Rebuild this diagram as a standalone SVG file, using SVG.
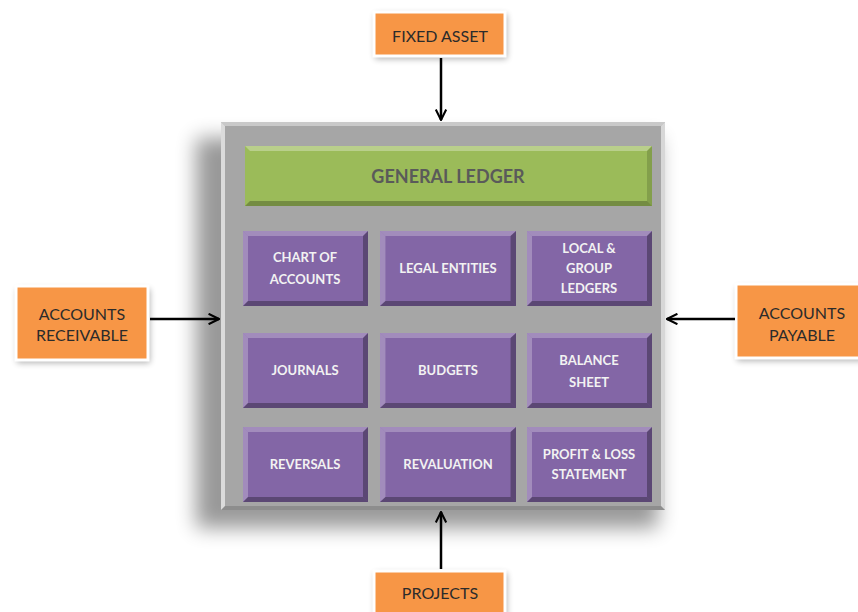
<svg xmlns="http://www.w3.org/2000/svg" width="858" height="612" viewBox="0 0 858 612">
<defs>
<style>
.t{font-family:Lato,"Liberation Sans",sans-serif;font-weight:bold;text-anchor:middle;dominant-baseline:central}
.ob{fill:#F79646;stroke:#fff;stroke-width:3}
.ot{fill:#2b2b2b;font-size:16px;font-weight:normal}
.pt{fill:#F2F2F2;font-size:13px}
.hi{fill:#fff;opacity:0.25}
.lo{fill:#000;opacity:0.3}
.pf{fill:#8366A6}
.conn line{stroke:#000;stroke-width:2.5;marker-end:url(#ah)}
</style>
<filter id="sh" x="-20%" y="-20%" width="140%" height="140%"><feGaussianBlur stdDeviation="3"/></filter>
<filter id="psh" x="-20%" y="-20%" width="140%" height="140%"><feGaussianBlur stdDeviation="10"/></filter>
<marker id="ah" viewBox="0 0 12 12" refX="11" refY="6" markerWidth="5" markerHeight="5" orient="auto" markerUnits="strokeWidth"><path d="M1,1 L11,6 L1,11" fill="none" stroke="#000" stroke-width="2"/></marker>
<g id="bev">
<rect x="0" y="0" width="125" height="75" class="pf"/>
<polygon points="0,0 125,0 120,5 5,5" class="hi"/>
<polygon points="0,0 5,5 5,70 0,75" class="hi" opacity="0.15"/>
<polygon points="0,75 5,70 120,70 125,75" class="lo"/>
<polygon points="125,0 125,75 120,70 120,5" class="lo" opacity="0.2"/>
</g>
</defs>
<rect width="858" height="612" fill="#fff"/>

<g id="panel">
<rect x="196" y="138" width="462" height="390" fill="#000" opacity="0.4" filter="url(#psh)"/>
<rect x="221" y="122" width="444" height="388" fill="#A6A6A6"/>
<polygon points="221,122 665,122 661,126 225,126" fill="#fff" opacity="0.4"/>
<polygon points="221,122 225,126 225,506 221,510" fill="#fff" opacity="0.6"/>
<polygon points="665,122 665,510 661,506 661,126" fill="#fff" opacity="0.55"/>
<polygon points="221,510 225,506 661,506 665,510" fill="#000" opacity="0.15"/>
</g>

<g id="general-ledger">
<rect x="245" y="146" width="407" height="60" fill="#9BBB59"/>
<polygon points="245,146 652,146 647,151 250,151" fill="#fff" opacity="0.3"/>
<polygon points="245,206 250,201 647,201 652,206" fill="#000" opacity="0.25"/>
<polygon points="652,146 652,206 647,201 647,151" fill="#000" opacity="0.15"/>
<text x="448" y="176" class="t" fill="#5a5a5a" font-size="18">GENERAL LEDGER</text>
</g>

<g id="chart-of-accounts"><use href="#bev" x="243" y="231"/><text class="t pt" x="305" y="257">CHART OF</text><text class="t pt" x="305" y="279">ACCOUNTS</text></g>
<g id="legal-entities"><use href="#bev" transform="translate(380,231) scale(1.088,1)"/><text class="t pt" x="448" y="268">LEGAL ENTITIES</text></g>
<g id="local-group-ledgers"><use href="#bev" x="527" y="231"/><text class="t pt" x="589" y="248" font-size="12">LOCAL &amp;</text><text class="t pt" x="589" y="268" font-size="12">GROUP</text><text class="t pt" x="589" y="288" font-size="12">LEDGERS</text></g>

<g id="journals"><use href="#bev" x="243" y="333"/><text class="t pt" x="305" y="370">JOURNALS</text></g>
<g id="budgets"><use href="#bev" transform="translate(380,333) scale(1.088,1)"/><text class="t pt" x="448" y="370">BUDGETS</text></g>
<g id="balance-sheet"><use href="#bev" x="527" y="333"/><text class="t pt" x="589" y="360">BALANCE</text><text class="t pt" x="589" y="382">SHEET</text></g>

<g id="reversals"><use href="#bev" x="243" y="427"/><text class="t pt" x="305" y="464">REVERSALS</text></g>
<g id="revaluation"><use href="#bev" transform="translate(380,427) scale(1.088,1)"/><text class="t pt" x="448" y="464">REVALUATION</text></g>
<g id="profit-loss-statement"><use href="#bev" x="527" y="427"/><text class="t pt" x="589" y="454" font-size="12">PROFIT &amp; LOSS</text><text class="t pt" x="589" y="474" font-size="12">STATEMENT</text></g>

<g id="fixed-asset">
<rect x="375" y="14" width="132" height="45" fill="#000" opacity="0.3" filter="url(#sh)"/>
<rect x="374" y="12" width="131" height="44" class="ob"/>
<text class="t ot" x="440" y="35">FIXED ASSET</text>
</g>
<g id="accounts-receivable">
<rect x="17" y="289" width="133" height="74" fill="#000" opacity="0.3" filter="url(#sh)"/>
<rect x="16" y="286" width="132" height="74" class="ob"/>
<text class="t ot" x="82" y="313" font-size="14">ACCOUNTS</text>
<text class="t ot" x="82" y="334" font-size="14">RECEIVABLE</text>
</g>
<g id="accounts-payable">
<rect x="737" y="287" width="130" height="74" fill="#000" opacity="0.3" filter="url(#sh)"/>
<rect x="736" y="284" width="130" height="74" class="ob"/>
<text class="t ot" x="802" y="312" font-size="14">ACCOUNTS</text>
<text class="t ot" x="802" y="334" font-size="14">PAYABLE</text>
</g>
<g id="projects">
<rect x="375" y="573" width="132" height="45" fill="#000" opacity="0.3" filter="url(#sh)"/>
<rect x="374" y="571" width="131" height="44" class="ob"/>
<text class="t ot" x="440" y="592">PROJECTS</text>
</g>

<g id="connectors" class="conn">
<line x1="441" y1="58" x2="441" y2="120"/>
<line x1="150" y1="319" x2="219" y2="319"/>
<line x1="735" y1="319" x2="667" y2="319"/>
<line x1="441" y1="569" x2="441" y2="512"/>
</g>
</svg>
